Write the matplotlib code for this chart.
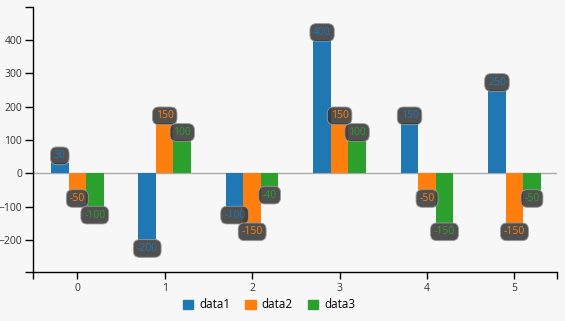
import matplotlib.pyplot as plt
import numpy as np
from matplotlib.patches import Patch

plt.rcParams['font.family'] = ['Open Sans', 'DejaVu Sans']

# data
categories = [0, 1, 2, 3, 4, 5]
data1 = [30, -200, -100, 400, 150, 250]
data2 = [-50, 150, -150, 150, -50, -150]
data3 = [-100, 100, -40, 100, -150, -50]
series_names = ["data1", "data2", "data3"]
y_ticks = [-200, -100, 0, 100, 200, 300, 400]

color_lst = ['#1f77b4', '#ff7f0e', '#2ca02c']
BG = '#f7f7f7'
TICK_SIZE = 7.5
LABEL_SIZE = 7.5
LEGEND_SIZE = 8.4


def draw_chart():
    fig = plt.figure(figsize=(5.65, 3.21), dpi=100, facecolor=BG)
    ax = fig.add_axes([33.3 / 565, 1 - 272.3 / 321, 524 / 565, 265.3 / 321])
    ax.set_facecolor(BG)

    x = np.arange(len(categories))
    width = 0.2
    ax.axhline(0, color='#aaaaaa', lw=1, zorder=1)

    for idx, vals in enumerate([data1, data2, data3]):
        pos = x + (idx - 1) * width
        ax.bar(pos, vals, width, color=color_lst[idx], zorder=2, label=series_names[idx])
        for px, v in zip(pos, vals):
            off = 7.5 if v >= 0 else -8.5
            ax.annotate(str(v), (px, v), xytext=(0, off), textcoords='offset pixels',
                        ha='center', va='center', fontsize=LABEL_SIZE, color=color_lst[idx],
                        zorder=5,
                        bbox=dict(boxstyle='round,pad=0.32,rounding_size=0.6',
                                  fc=(0.2, 0.2, 0.2, 0.85), ec='#999999', lw=0.6))

    ax.set_xlim(-0.503, 5.49)
    ax.set_ylim(-297, 499)
    ax.set_xticks(x)
    ax.set_xticklabels([str(c) for c in categories])
    ax.set_yticks(y_ticks)
    ax.set_xticks([-0.503, 5.49], minor=True)
    ax.set_yticks([-297, 499], minor=True)

    for side in ['top', 'right']:
        ax.spines[side].set_visible(False)
    for side in ['left', 'bottom']:
        ax.spines[side].set_color('black')
        ax.spines[side].set_linewidth(1)

    ax.tick_params(axis='both', which='both', direction='out', color='black',
                   labelsize=TICK_SIZE, labelcolor='#333333', width=1)
    ax.tick_params(axis='x', which='both', length=5, pad=3)
    ax.tick_params(axis='y', which='both', length=6, pad=2)

    handles = [Patch(color=c) for c in color_lst]
    fig.legend(handles, series_names, loc='center', bbox_to_anchor=(269 / 565, 1 - 305 / 321),
               ncol=3, frameon=False, fontsize=LEGEND_SIZE, handlelength=0.9, handleheight=0.9,
               handletextpad=0.5, columnspacing=1.3)

    fig.savefig('out.png', dpi=100, facecolor=BG)


if __name__ == '__main__':
    draw_chart()
